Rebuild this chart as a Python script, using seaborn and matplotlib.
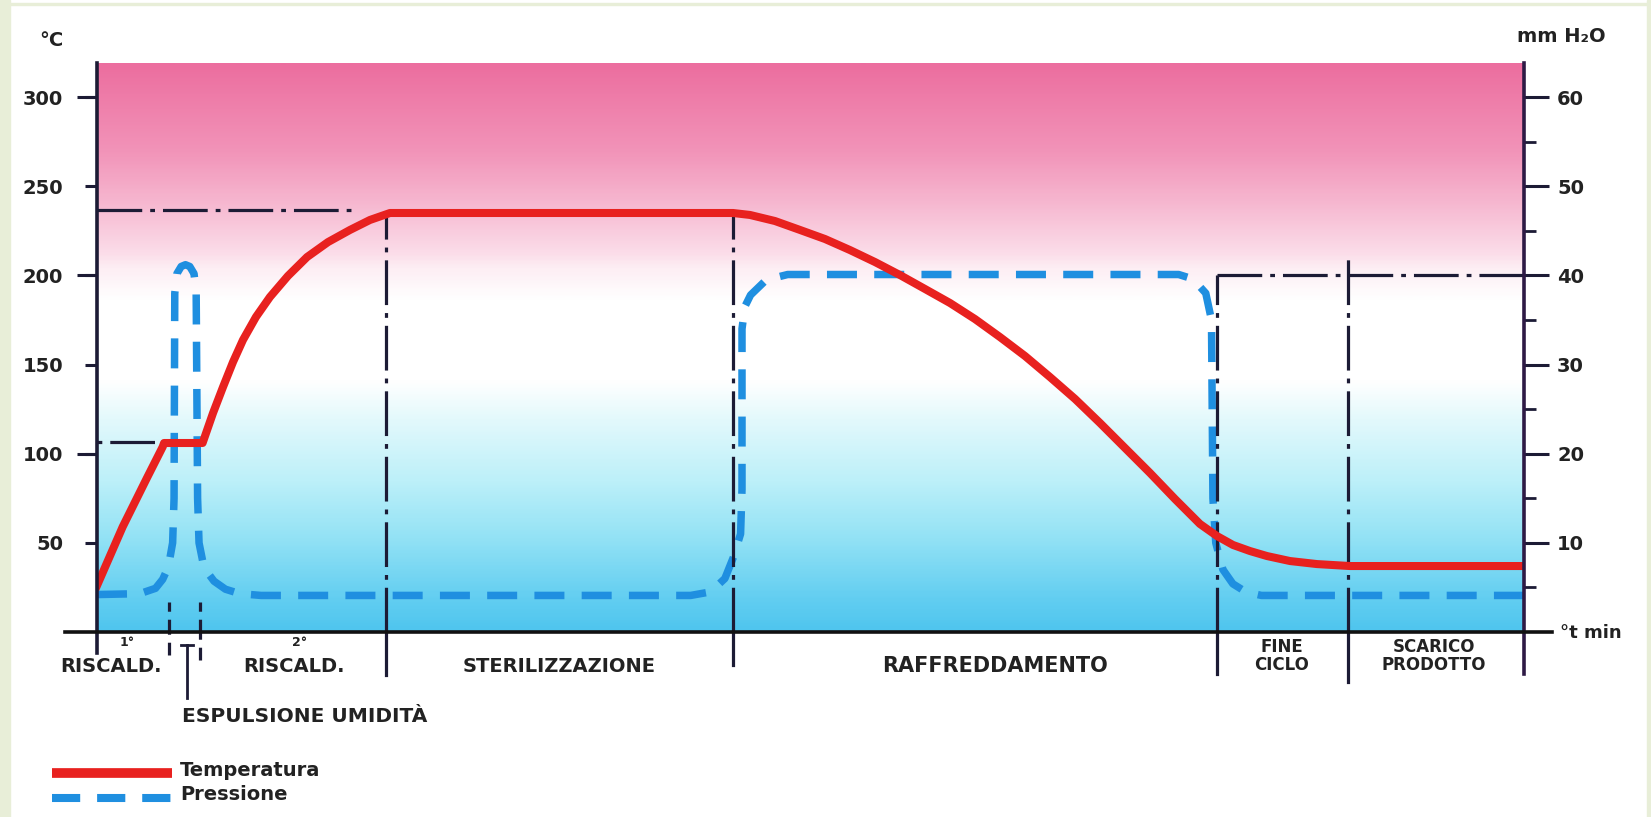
import numpy as np
import pandas as pd
import matplotlib
matplotlib.use("Agg")
import matplotlib.pyplot as plt
import matplotlib.transforms as mtrans
from matplotlib.colors import LinearSegmentedColormap
from matplotlib.lines import Line2D
from matplotlib.patches import Rectangle
import seaborn as sns

# Dati (tempo in unita' arbitrarie: 0 = inizio, 100 = fine scarico)
t_temp = [0, 1.8, 3.5, 4.6, 4.7, 7.4, 8.13, 8.83, 9.53, 10.23, 11.14, 12.12,
          13.38, 14.72, 16.19, 17.73, 19.13, 20.53,
          44.57, 45.76, 47.51, 49.26, 51.02, 52.77, 54.52, 56.27, 58.02,
          59.78, 61.53, 63.28, 65.03, 66.78, 68.54, 70.29, 72.04, 73.79,
          75.54, 77.29, 78.49, 79.61, 80.80, 81.99, 83.60, 85.49, 87.8, 100]
temperatura = [26, 59, 86.4, 103.8, 106, 106, 122.8, 137.4, 151.4, 163.8, 176.7, 187.9,
               199.7, 210.3, 218.7, 225.5, 231.1, 235,
               235, 233.9, 230.5, 225.5, 220.4, 214.2, 207.5, 200.2, 192.4,
               184.5, 175.5, 165.4, 154.8, 143.0, 130.7, 117.2, 103.2, 89.2,
               74.6, 60.6, 53.8, 48.8, 45.4, 42.6, 39.8, 38.1, 37, 37]

t_press = [0, 3.0, 4.1, 4.6, 5.0, 5.3, 5.4, 5.45, 5.6, 5.9, 6.2, 6.5, 6.8,
           6.95, 7.05, 7.15, 7.5, 8.2, 9.0, 10.0, 11.5,
           41.6, 43.0, 44.0, 44.6, 45.1, 45.2, 45.2, 45.4, 45.8, 46.9, 48.4,
           75.8, 76.8, 77.7, 78.1, 78.2, 78.4, 78.9, 79.6, 80.5, 81.6, 100]
pressione = [4.2, 4.3, 4.9, 5.9, 7.3, 10, 15, 38, 40.2, 41.0, 41.2, 41.0, 40.2,
             38, 15, 10, 7.2, 5.7, 4.8, 4.3, 4.1,
             4.1, 4.5, 6.0, 8.4, 11, 16, 34, 36.5, 37.8, 39.5, 40.1,
             40.1, 39.6, 38.0, 35, 15, 10, 7.0, 5.4, 4.5, 4.1, 4.1]

# limiti delle fasi
fasi_limiti = [20.25, 44.6, 78.5, 87.7]
fasi_top = [235, 235, 200, 210]          # fin dove sale la linea tratto-punto (°C)
fasi_giu = [675, 665, 674, 682]          # fine della linea sotto l'asse (pixel)
espulsione_limiti = [5.05, 7.2]

fasi_nomi = ["STERILIZZAZIONE", "RAFFREDDAMENTO", "FINE\nCICLO", "SCARICO\nPRODOTTO"]
fasi_x = [32.4, 62.9, 83.0, 93.7]

temp_ticks = [50, 100, 150, 200, 250, 300]
press_ticks = [10, 20, 30, 40, 50, 60]
press_minor = [5, 15, 25, 35, 45, 55]

ROSSO = "#e8211f"
BLU = "#1f8fe0"
SCURO = "#1c1b35"
TESTO = "#222222"

W, H = 1651, 817
fig = plt.figure(figsize=(W / 100, H / 100), dpi=100, facecolor="white")
plt.rcParams['font.family'] = ['DejaVu Sans']
left, right, top, bottom = 97, 1524, 63, 632
fig.subplots_adjust(left=left / W, right=right / W, top=1 - top / H, bottom=1 - bottom / H)
ax = fig.add_subplot(111)
ax2 = ax.twinx()
ax.set_zorder(2)
ax2.set_zorder(1)
ax.patch.set_visible(False)

T_MAX = (bottom - top) / 1.783
ax.set_xlim(0, 100)
ax.set_ylim(0, T_MAX)
ax2.set_ylim(0, T_MAX / 5)

# sfondo sfumato rosa / bianco / azzurro
stops = [(0.0, "#4fc5ee"), (0.056, "#62cef1"), (0.163, "#93e2f5"), (0.266, "#bdf0f9"),
         (0.373, "#e3f9fc"), (0.44, "#ffffff"), (0.585, "#ffffff"), (0.64, "#fdeef4"),
         (0.671, "#fbdbe8"), (0.759, "#f6b6cf"), (0.846, "#f294b9"), (1.0, "#ec6e9f")]
cmap = LinearSegmentedColormap.from_list("sfondo", stops)
grad = np.linspace(0, 1, 400).reshape(-1, 1)
ax2.imshow(grad, extent=[0, 100, 0, T_MAX / 5], aspect="auto", cmap=cmap,
           origin="lower", zorder=0, interpolation="bilinear")
ax2.set_xlim(0, 100)

for sp in ax.spines.values():
    sp.set_visible(False)
for sp in ax2.spines.values():
    sp.set_visible(False)

dashdot = (0, (14, 2.5, 1.5, 2.5))
px = 0.72  # punti per pixel

def frac_y(pix):
    return (bottom - pix) / (bottom - top)

# assi disegnati a mano (sporgono sotto la linea base)
ax.axvline(0, ymin=frac_y(653), ymax=1, color=SCURO, lw=2.6, clip_on=False, zorder=4)
ax.axvline(100, ymin=frac_y(674), ymax=1, color="#2e1a45", lw=2.6, clip_on=False, zorder=4)
ax.axhline(0, xmin=(65 - left) / (right - left), xmax=(1552 - left) / (right - left),
           color="#111111", lw=2.6, clip_on=False, zorder=4)

# linee delle fasi
for x, t_top, giu in zip(fasi_limiti, fasi_top, fasi_giu):
    ax.vlines(x, 0, t_top, color=SCURO, lw=2.3, linestyles=[dashdot], zorder=1.5)
    ax.axvline(x, ymin=frac_y(giu), ymax=0, color=SCURO, lw=2.3, clip_on=False)
for x, giu in zip(espulsione_limiti, [655, 660]):
    ax.vlines(x, 0, 17, color=SCURO, lw=2.3, linestyles=[(0, (4, 2.5))], zorder=1.5)
    ax.axvline(x, ymin=frac_y(giu), ymax=0, color=SCURO, lw=2.3, clip_on=False,
               linestyle=(0, (4, 2.5)))

# riferimenti orizzontali
ax.hlines(236.5, 0, 18.2, color=SCURO, lw=2.3, linestyles=[dashdot], zorder=1.5)
ax.hlines(106.5, 0, 4.6, color=SCURO, lw=2.3, linestyles=[(0, (1.5, 2.5, 14, 2.5))], zorder=1.5)
ax2.hlines(40, fasi_limiti[2], 100, color=SCURO, lw=2.3, linestyles=[dashdot], zorder=1.5)

# curve
df_p = pd.DataFrame({"t": t_press, "P": pressione})
sns.lineplot(data=df_p, x="t", y="P", ax=ax2, color=BLU, lw=5.4, estimator=None,
             sort=False, linestyle=(0, (4, 2.3)), dash_capstyle="butt", zorder=2)
df_t = pd.DataFrame({"t": t_temp, "T": temperatura})
sns.lineplot(data=df_t, x="t", y="T", ax=ax, color=ROSSO, lw=5.8, estimator=None,
             sort=False, solid_joinstyle="round", zorder=3)

ax.set_xlabel("")
ax.set_ylabel("")
ax2.set_ylabel("")
ax.set_xticks([])
ax2.set_ylim(0, T_MAX / 5)
ax.set_ylim(0, T_MAX)
ax.set_xlim(0, 100)

# tacche
ax.yaxis.remove_overlapping_locs = False
ax.set_yticks(temp_ticks)
ax.set_yticks([100, 200, 300], minor=True)
ax.set_yticklabels([str(v) for v in temp_ticks], fontsize=14, fontweight="bold", color=TESTO)
ax.tick_params(axis="y", which="major", length=12 * px, width=2.2, pad=22 * px, color=SCURO)
ax.tick_params(axis="y", which="minor", length=20 * px, width=2.2, color=SCURO)
ax2.set_yticks(press_ticks)
ax2.set_yticks(press_minor, minor=True)
ax2.set_yticklabels([str(v) for v in press_ticks], fontsize=14, fontweight="bold", color=TESTO)
ax2.tick_params(axis="y", which="major", length=25 * px, width=2.2, pad=8 * px, color=SCURO)
ax2.tick_params(axis="y", which="minor", length=12 * px, width=2.0, color=SCURO)

def fy(pix):
    return 1 - pix / H

def fx(pix):
    return pix / W

bold = dict(fontweight="bold", color=TESTO)
fig.text(fx(51), fy(40), "°C", ha="center", va="center", fontsize=14, **bold)
fig.text(fx(1517), fy(37), "mm H₂O", ha="left", va="center", fontsize=14, **bold)
fig.text(fx(1560), fy(633), "°t min", ha="left", va="center", fontsize=13, **bold)

tr = mtrans.blended_transform_factory(ax.transData, fig.transFigure)
fig.text(2.1, fy(643), "1°", transform=tr, ha="center", va="center", fontsize=9, **bold)
fig.text(1.0, fy(666), "RISCALD.", transform=tr, ha="center", va="center", fontsize=14, **bold)
fig.text(14.2, fy(643), "2°", transform=tr, ha="center", va="center", fontsize=9, **bold)
fig.text(13.8, fy(666), "RISCALD.", transform=tr, ha="center", va="center", fontsize=14, **bold)
for nome, x in zip(fasi_nomi, fasi_x):
    if "\n" in nome:
        fig.text(x, fy(656), nome, transform=tr, ha="center", va="center",
                 fontsize=12, linespacing=1.0, **bold)
    else:
        size = 15 if nome == "RAFFREDDAMENTO" else 14
        fig.text(x, fy(666), nome, transform=tr, ha="center", va="center", fontsize=size, **bold)

# freccia espulsione umidita'
fig.add_artist(Line2D([fx(187), fx(187)], [fy(645), fy(698)], color=SCURO, lw=2.0))
fig.add_artist(Line2D([fx(181), fx(193)], [fy(645), fy(645)], color=SCURO, lw=2.0))
fig.text(fx(182), fy(717), "ESPULSIONE UMIDITÀ", ha="left", va="center", fontsize=14.5, **bold)

# legenda
fig.add_artist(Line2D([fx(52), fx(172)], [fy(773), fy(773)], color=ROSSO, lw=7, solid_capstyle="butt"))
fig.add_artist(Line2D([fx(52), fx(172)], [fy(798), fy(798)], color=BLU, lw=5.8,
                      linestyle=(0, (3.5, 2.1)), dash_capstyle="butt"))
fig.text(fx(180), fy(770), "Temperatura", ha="left", va="center", fontsize=14, **bold)
fig.text(fx(180), fy(795), "Pressione", ha="left", va="center", fontsize=14, **bold)

# bordo verdino della slide
verde = "#e8eed8"
fig.add_artist(Rectangle((0, 0), fx(10), 1, transform=fig.transFigure, color=verde, zorder=-5))
fig.add_artist(Rectangle((0, fy(5)), 1, fx(5), transform=fig.transFigure, color=verde, zorder=-5))
fig.add_artist(Rectangle((fx(1647), 0), fx(4), 1, transform=fig.transFigure, color=verde, zorder=-5))

fig.savefig("out.png", dpi=100, facecolor="white")
